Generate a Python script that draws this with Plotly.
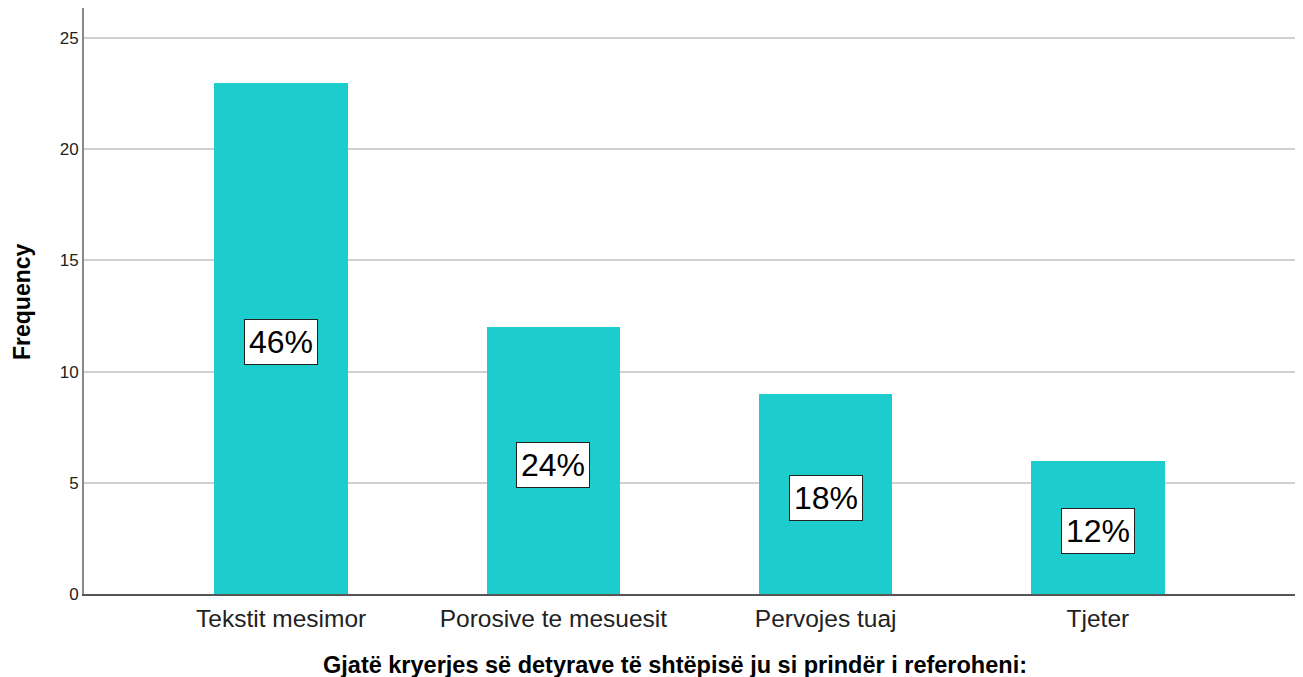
import plotly.graph_objects as go

categories = ["Tekstit mesimor", "Porosive te mesuesit", "Pervojes tuaj", "Tjeter"]
frequencies = [23, 12, 9, 6]
y_ticks = [0, 5, 10, 15, 20, 25]

total = sum(frequencies)
percent_labels = [f"{round(100 * v / total)}%" for v in frequencies]

BAR_COLOR = "#1DCDCD"
FONT = "Liberation Sans, Arial, sans-serif"

# page body has an 8px margin; compensate so the plot sits where the reference does
W, H = 1295, 669
fig = go.Figure()
fig.add_trace(go.Bar(
    x=list(range(len(categories))),
    y=frequencies,
    width=0.49,
    marker=dict(color=BAR_COLOR, line=dict(width=0)),
    hoverinfo="skip",
))

for i, (v, lab) in enumerate(zip(frequencies, percent_labels)):
    fig.add_annotation(
        x=i, y=v / 2, xref="x", yref="y", text=lab, showarrow=False, yshift=-4,
        font=dict(family=FONT, size=32, color="#000000"),
        bgcolor="white", bordercolor="#222222", borderwidth=1, borderpad=4,
    )

# axis titles as annotations for exact placement
fig.add_annotation(
    x=0.488, y=-0.1216, xref="paper", yref="paper", xanchor="center", yanchor="middle",
    text="<b>Gjatë kryerjes së detyrave të shtëpisë ju si prindër i referoheni:</b>",
    showarrow=False, font=dict(family=FONT, size=23.5, color="#000000"),
)
fig.add_annotation(
    x=-0.0512, y=0.5, xref="paper", yref="paper", xanchor="center", yanchor="middle",
    text="<b>Frequency</b>", textangle=-90,
    showarrow=False, font=dict(family=FONT, size=23, color="#000000"),
)

fig.update_layout(
    width=W, height=H,
    margin=dict(l=76, r=8, t=0, b=83),
    paper_bgcolor="white", plot_bgcolor="white",
    showlegend=False,
    bargap=0,
    font=dict(family=FONT, color="#222222"),
)

fig.update_xaxes(
    range=[-0.724, len(categories) - 1 + 0.724],
    tickmode="array",
    tickvals=list(range(len(categories))),
    ticktext=categories,
    tickfont=dict(size=24.5, color="#222222"),
    ticks="outside", ticklen=2, tickcolor="rgba(0,0,0,0)",
    showline=True, linecolor="#555555", linewidth=1.5,
    showgrid=False, zeroline=False,
)

fig.update_yaxes(
    range=[0, 26.35],
    tickmode="array",
    tickvals=y_ticks,
    ticktext=[str(t) for t in y_ticks],
    tickfont=dict(size=17, color="#222222"),
    ticks="", showline=True, linecolor="#888888", linewidth=2,
    showgrid=True, gridcolor="#D0D0D0", gridwidth=1.5,
    zeroline=False,
)

fig.write_html("out.html")
